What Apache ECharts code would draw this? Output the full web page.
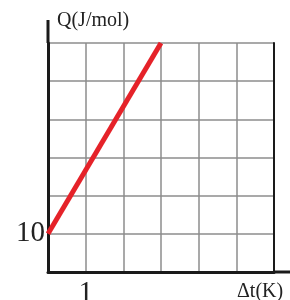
<!DOCTYPE html>
<html>
<head>
<meta charset="utf-8">
<script src="https://cdn.jsdelivr.net/npm/echarts@6/dist/echarts.min.js"></script>
<style>
  html, body { margin: 0; padding: 0; background: #fff; }
  #chart { width: 290px; height: 300px; }
</style>
</head>
<body>
<div id="chart"></div>
<script>
  // values
  const dtValues = [0, 3];
  const qValues = [10, 60];
  const xTickLabels = ['1'];
  const yTickLabels = ['10'];

  const serif = '"Liberation Serif", "DejaVu Serif", serif';
  const gridColor = '#8c8c8c';

  const chart = echarts.init(document.getElementById('chart'));
  chart.setOption({
    animation: false,
    grid: { left: 48, right: 16, top: 43, bottom: 28, outerBoundsMode: 'none', containLabel: false },
    xAxis: {
      type: 'value',
      min: 0,
      max: 6,
      interval: 1,
      name: 'Δt(K)',
      nameLocation: 'end',
      nameGap: -37,
      nameTextStyle: {
        fontFamily: serif, fontSize: 20, color: '#222',
        verticalAlign: 'top', padding: [10, 0, 0, 0]
      },
      axisLine: { show: true, lineStyle: { color: '#1a1a1a', width: 3 } },
      axisTick: { show: false },
      axisLabel: {
        fontFamily: serif, fontSize: 29, color: '#222', margin: 7,
        formatter: v => xTickLabels.includes(String(v)) ? String(v) : ''
      },
      splitLine: { show: true, lineStyle: { color: gridColor, width: 1.5 } }
    },
    yAxis: [
      {
        type: 'value',
        min: 0,
        max: 60,
        interval: 10,
        name: 'Q(J/mol)',
        nameLocation: 'end',
        nameGap: 12,
        nameTextStyle: {
          fontFamily: serif, fontSize: 20, color: '#222',
          align: 'left', padding: [0, 0, 0, 9]
        },
        axisLine: { show: true, lineStyle: { color: '#1a1a1a', width: 3 } },
        axisTick: { show: false },
        axisLabel: {
          fontFamily: serif, fontSize: 29, color: '#222', margin: 3,
          formatter: v => yTickLabels.includes(String(v)) ? String(v) : ''
        },
        splitLine: { show: true, lineStyle: { color: gridColor, width: 1.5 } }
      },
      {
        type: 'value',
        position: 'right',
        min: 0,
        max: 60,
        interval: 10,
        axisLine: { show: true, lineStyle: { color: '#1a1a1a', width: 2 } },
        axisTick: { show: false },
        axisLabel: { show: false },
        splitLine: { show: false }
      }
    ],
    graphic: [
      // axis lines run on past the grid
      { type: 'line', shape: { x1: 48, y1: 20, x2: 48, y2: 43 }, style: { stroke: '#1a1a1a', lineWidth: 3 } },
      { type: 'line', shape: { x1: 274, y1: 272, x2: 290, y2: 272 }, style: { stroke: '#1a1a1a', lineWidth: 3 } }
    ],
    series: [
      {
        type: 'line',
        data: dtValues.map((d, i) => [d, qValues[i]]),
        symbol: 'none',
        lineStyle: { color: '#e52229', width: 5 }
      }
    ]
  });
</script>
</body>
</html>
